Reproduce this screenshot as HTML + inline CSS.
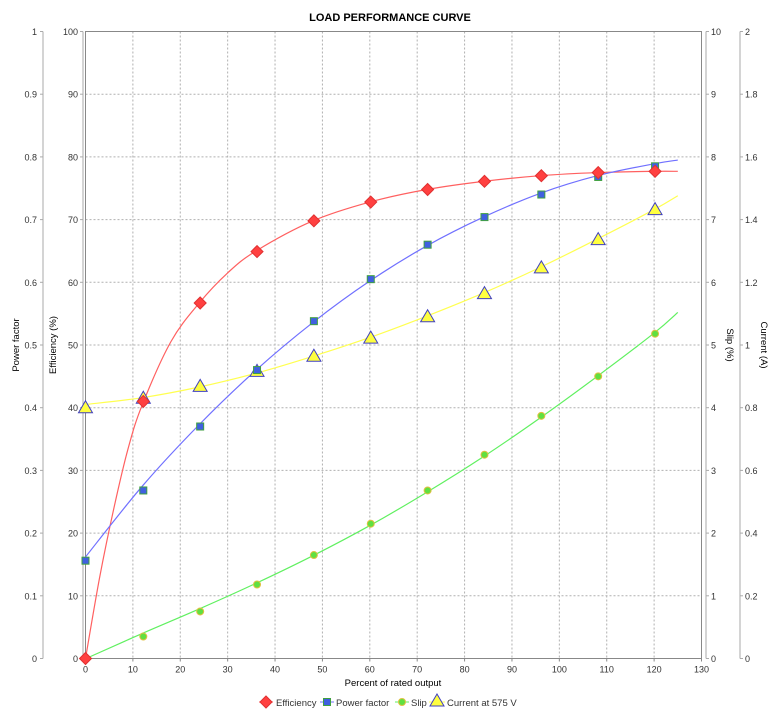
<!DOCTYPE html>
<html><head><meta charset="utf-8"><style>
body{margin:0;background:#fff;}
svg{display:block;font-family:"Liberation Sans",sans-serif;}
</style></head><body>
<svg id="s" width="779" height="720" xmlns="http://www.w3.org/2000/svg">
<text x="390" y="21" text-anchor="middle" font-size="11" font-weight="bold">LOAD PERFORMANCE CURVE</text>
<g id="g"></g>
</svg>
<script>
const L=85.5,T=31.5,B=658.5,R=701.5;
const X=v=>L+v*(R-L)/130, Y=v=>B-v*(B-T)/100;
let h='';
for(let i=1;i<13;i++)h+=`<line x1="${X(i*10)}" y1="${T}" x2="${X(i*10)}" y2="${B}" stroke="#b0b0b0" stroke-dasharray="2,2" stroke-width="1"/>`;
for(let i=1;i<10;i++)h+=`<line x1="${L}" y1="${Y(i*10)}" x2="${R}" y2="${Y(i*10)}" stroke="#b0b0b0" stroke-dasharray="2,2" stroke-width="1"/>`;
h+=`<rect x="${L}" y="${T}" width="${R-L}" height="${B-T}" fill="none" stroke="#888"/>`;
const ax=(x)=>{h+=`<line x1="${x}" y1="${T}" x2="${x}" y2="${B}" stroke="#aaa"/>`;};
ax(43);ax(83);ax(706);ax(740);
for(let i=0;i<=10;i++){const y=Y(i*10);
 const pf=i==10?'1':i==0?'0':(i/10).toFixed(1);
 h+=`<line x1="40" y1="${y}" x2="43" y2="${y}" stroke="#aaa"/><text x="37" y="${y+3.5}" font-size="9" text-anchor="end" fill="#333">${pf}</text>`;
 h+=`<line x1="80" y1="${y}" x2="83" y2="${y}" stroke="#aaa"/><text x="78" y="${y+3.5}" font-size="9" text-anchor="end" fill="#333">${i*10}</text>`;
 h+=`<line x1="706" y1="${y}" x2="709" y2="${y}" stroke="#aaa"/><text x="711" y="${y+3.5}" font-size="9" fill="#333">${i}</text>`;
 const c=i==0?'0':i==5?'1':i==10?'2':(i/5).toFixed(1);
 h+=`<line x1="740" y1="${y}" x2="743" y2="${y}" stroke="#aaa"/><text x="745" y="${y+3.5}" font-size="9" fill="#333">${c}</text>`;
}
for(let i=0;i<=13;i++){const x=X(i*10);h+=`<line x1="${x}" y1="${B}" x2="${x}" y2="${B+3}" stroke="#888"/><text x="${x}" y="${B+14}" font-size="9" text-anchor="middle" fill="#333">${i*10}</text>`;}
h+=`<text x="393" y="686" font-size="9.5" text-anchor="middle">Percent of rated output</text>`;
h+=`<text transform="translate(19,345) rotate(-90)" font-size="9.5" text-anchor="middle">Power factor</text>`;
h+=`<text transform="translate(56,345) rotate(-90)" font-size="9.5" text-anchor="middle">Efficiency (%)</text>`;
h+=`<text transform="translate(727,345) rotate(90)" font-size="9.5" text-anchor="middle">Slip (%)</text>`;
h+=`<text transform="translate(761,345) rotate(90)" font-size="9.5" text-anchor="middle">Current (A)</text>`;
const xs=[0,12,24,36,48,60,72,84,96,108,120];
const eff=[0,41,56.7,64.9,69.8,72.8,74.8,76.1,77,77.5,77.7];
const pf=[15.6,26.8,37,46,53.8,60.5,66,70.4,74,76.8,78.5];
const sl=[0,3.5,7.5,11.8,16.5,21.5,26.8,32.5,38.7,45,51.8];
const cu=[40,41.5,43.4,45.8,48.2,51.1,54.5,58.2,62.3,66.8,71.6];
function cr(pts){let d=`M${X(pts[0][0])},${Y(pts[0][1])}`;
 for(let i=0;i<pts.length-1;i++){const p0=pts[Math.max(0,i-1)],p1=pts[i],p2=pts[i+1],p3=pts[Math.min(pts.length-1,i+2)];
  const c1=[p1[0]+(p2[0]-p0[0])/6,p1[1]+(p2[1]-p0[1])/6],c2=[p2[0]-(p3[0]-p1[0])/6,p2[1]-(p3[1]-p1[1])/6];
  d+=` C${X(c1[0])},${Y(c1[1])} ${X(c2[0])},${Y(c2[1])} ${X(p2[0])},${Y(p2[1])}`;}
 return d;}
h+=`<path d="${cr([[0,0],[3,13],[6,24],[9,33.5],[12,40.5],[18,50.5],[24,56.7],[30,61.5],[36,65],[48,69.8],[60,72.8],[72,74.8],[84,76.1],[96,77],[108,77.5],[120,77.7],[125,77.7]])}" fill="none" stroke="#ff6060" stroke-width="1.2"/>`;
h+=`<path d="${cr([[0,16.2],[12,27.5],[24,37.3],[36,46],[48,53.6],[60,60.2],[72,65.8],[84,70.4],[96,74.2],[108,77],[120,78.9],[125,79.5]])}" fill="none" stroke="#7070ff" stroke-width="1.2"/>`;
h+=`<path d="${cr([[1,0.3],[12,4],[24,7.9],[36,12],[48,16.4],[60,21.2],[72,26.5],[84,32.2],[96,38.4],[108,45],[120,51.9],[125,55.2]])}" fill="none" stroke="#60f060" stroke-width="1.2"/>`;
h+=`<path d="${cr([[0,40.5],[12,41.6],[24,43.3],[36,45.5],[48,48.2],[60,51.2],[72,54.6],[84,58.3],[96,62.4],[108,66.9],[120,71.6],[125,73.8]])}" fill="none" stroke="#ffff50" stroke-width="1.2"/>`;
const dia=(x,y)=>`<path d="M${x},${y-6}L${x+6},${y}L${x},${y+6}L${x-6},${y}Z" fill="#ff4040" stroke="#e03030"/>`;
const sq=(x,y)=>`<rect x="${x-3.5}" y="${y-3.5}" width="7" height="7" fill="#4060e0" stroke="#40a040"/>`;
const ci=(x,y)=>`<circle cx="${x}" cy="${y}" r="3.5" fill="#60e040" stroke="#e0c040"/>`;
const tr=(x,y)=>`<path d="M${x},${y-7}L${x+7},${y+5}L${x-7},${y+5}Z" fill="#ffff40" stroke="#4040c0"/>`;
xs.forEach((x,i)=>{const px=X(x+(i?0.2:0));h+=tr(px,Y(cu[i]))+ci(px,Y(sl[i]))+sq(px,Y(pf[i]))+dia(px,Y(eff[i]));});
h+=`<line x1="259" y1="702" x2="273" y2="702" stroke="#ff6060"/>`+dia(266,702)+`<text x="276" y="706" font-size="9.5" fill="#333">Efficiency</text>`;
h+=`<line x1="320" y1="702" x2="334" y2="702" stroke="#7070ff"/>`+sq(327,702)+`<text x="336" y="706" font-size="9.5" fill="#333">Power factor</text>`;
h+=`<line x1="395" y1="702" x2="409" y2="702" stroke="#60f060"/>`+ci(402,702)+`<text x="411" y="706" font-size="9.5" fill="#333">Slip</text>`;
h+=`<line x1="429" y1="702" x2="445" y2="702" stroke="#ffff50"/>`+tr(437,701)+`<text x="447" y="706" font-size="9.5" fill="#333">Current at 575 V</text>`;
document.getElementById('g').innerHTML=h;
</script>
</body></html>
